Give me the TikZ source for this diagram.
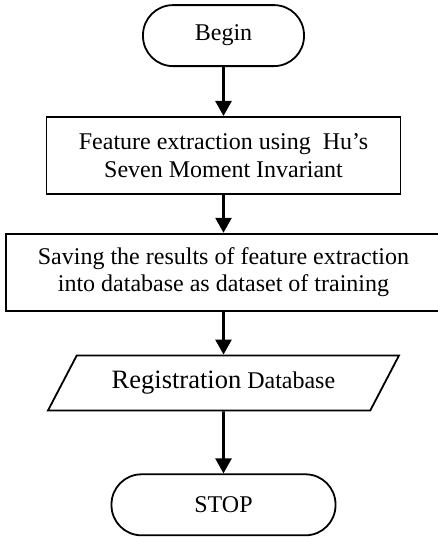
\documentclass[tikz,border=0pt]{standalone}
\usepackage{fontspec}
\setmainfont{Liberation Serif}
\usetikzlibrary{shapes.geometric,arrows.meta}

\begin{document}
\begin{tikzpicture}[x=1pt,y=-1pt,font=\fontsize{24}{27.6}\selectfont]
    % `terminal' is used for the Begin and STOP ovals.
    % `process' is used for the two boxes, `data' for the slanted one.
    % `flow' is used for the arrows between them.
    \tikzstyle{terminal} = [draw,line width=1.8pt,rounded corners=30pt,minimum height=61pt]
    \tikzstyle{process} = [draw,line width=1.8pt,align=center,minimum height=77pt,inner sep=0pt]
    \tikzstyle{data} = [draw,line width=1.8pt,shape=trapezium,trapezium left angle=39,trapezium right angle=141,trapezium stretches body,minimum width=351pt,minimum height=55pt]
    \tikzstyle{flow} = [line width=2.6pt,-{Triangle[width=16pt,length=15pt]}]
    %
    \useasboundingbox (0,0) rectangle (437,537);
    \matrix[row sep=38pt,inner sep=0pt,anchor=north] (chart) at (223.5,4) {
      \node[terminal,minimum width=161pt] (begin) {Begin}; \\[11pt]
      \node[process,minimum width=354pt] (hu) {Feature extraction using\ \ Hu’s\\Seven Moment Invariant}; \\[0pt]
      \node[process,minimum width=435pt] (save) {Saving the results of feature extraction\\into database as dataset of training}; \\[5pt]
      \node[data] (regdb) {{\fontsize{26.5}{30}\selectfont Registration} Database}; \\[24pt]
      \node[terminal,minimum width=224pt] (stop) {STOP}; \\
    };
    % Draw arrows.
    \draw[flow] (begin) -- (hu);
    \draw[flow] (hu) -- (save);
    \draw[flow] (save) -- (regdb);
    \draw[flow] (regdb) -- (stop);
\end{tikzpicture}
\end{document}
